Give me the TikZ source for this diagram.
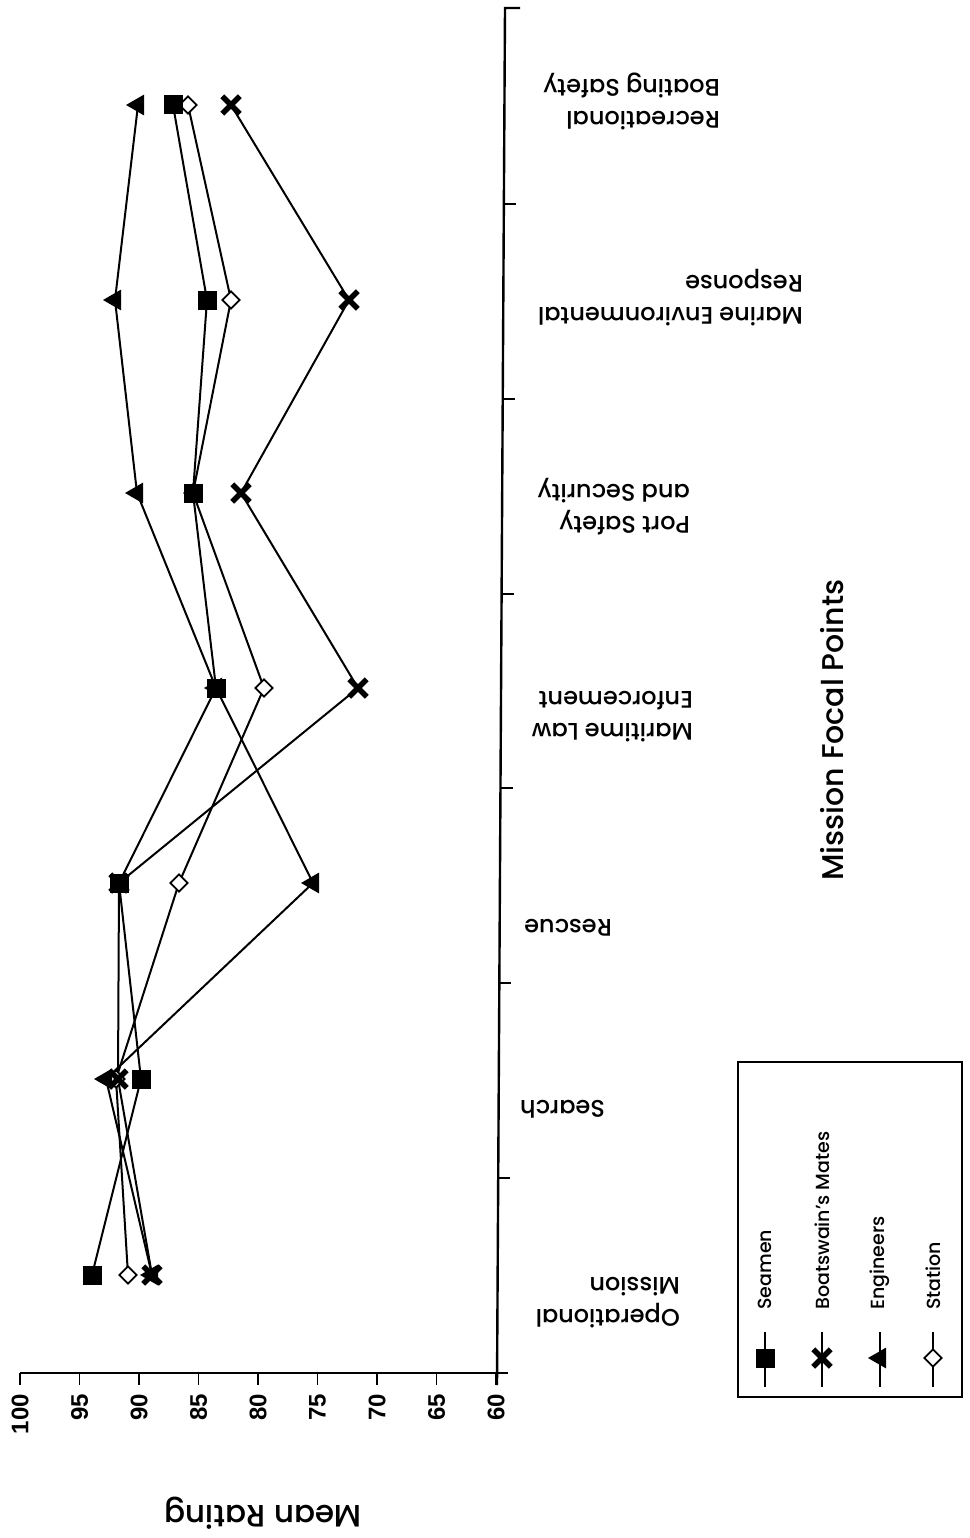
\documentclass[tikz,border=0pt]{standalone}
\usepackage{fontspec}
\setmainfont{Poppins Medium}
\newfontfamily\numfont{Liberation Sans}
\usetikzlibrary{shapes.geometric,shapes.misc}
\begin{document}
\begin{tikzpicture}[x=1pt,y=-1pt,
  dline/.style={line width=2pt},
  axisline/.style={line width=2.4pt},
  tickline/.style={line width=1.6pt},
  sqm/.style={rectangle, fill=black, minimum size=19pt, inner sep=0},
  xm/.style={cross out, draw=black, line width=5.5pt, minimum size=12pt, inner sep=0},
  trm/.style={regular polygon, regular polygon sides=3, shape border rotate=90, fill=black, minimum size=24pt, inner sep=0},
  dim/.style={diamond, draw=black, fill=white, line width=1.8pt, minimum size=18pt, inner sep=0},
  catlabel/.style={rotate=180, anchor=north west, inner sep=0, align=left, font=\fontsize{24}{32}\selectfont},
  ticklabel/.style={rotate=90, anchor=east, inner sep=0, font=\numfont\bfseries\fontsize{24}{26}\selectfont},
  legtext/.style={rotate=90, anchor=west, inner sep=0, font=\fontsize{19}{21}\selectfont},
]
\useasboundingbox[fill=white] (0,0) rectangle (969,1538);

% axes
\coordinate (ctop) at (505,8);
\coordinate (cbot) at (497,1385);
\coordinate (ctopend) at (520,8);
\draw[axisline] (ctopend) -- (ctop) -- (cbot);
\coordinate (vleft) at (20,1373);
\coordinate (vright) at (508,1373);
\draw[axisline] (vleft) -- (vright);
\foreach \i/\lab in {0/100,1/95,2/90,3/85,4/80,5/75,6/70,7/65,8/60}{
  \coordinate (vt\i) at ({20+\i*59.5},1373);
  \draw[tickline] (vt\i) -- ++(0,12);
  \node[ticklabel] (vl\i) at ({20+\i*59.5},1394) {\lab};
}
\foreach \i/\xx/\yy in {1/503.9/204,2/502.7/399,3/501.6/594,4/500.5/788,5/499.3/983,6/498.2/1178}{
  \coordinate (ct\i) at (\xx,\yy);
  \draw[tickline] (ct\i) -- ++(12,0);
}

% category labels
\node[catlabel] (c7) at (720,130) {Recreational\\Boating Safety};
\node[catlabel] (c6) at (803,326) {Marine Environmental\\Response};
\node[catlabel] (c5) at (690,535) {Port Safety\\and Security};
\node[catlabel] (c4) at (693,742) {Maritime Law\\Enforcement};
\node[catlabel] (c3) at (612,936) {Rescue};
\node[catlabel] (c2) at (605,1118) {Search};
\node[catlabel] (c1) at (680,1328) {Operational\\Mission};

\node[rotate=180, font=\fontsize{31}{34}\selectfont] (ylab) at (263,1513) {Mean Rating};
\node[rotate=90, font=\fontsize{30}{34}\selectfont] (xlab) at (832,730) {Mission Focal Points};

% data
\foreach \n/\yy/\sx/\bx/\ex/\tx in {
  1/1275/92/152/152/128,
  2/1079/141/118/106/116,
  3/883/119/119/313/179,
  4/688/216/358/216/264,
  5/493/193/241/137/193,
  6/300/207/349/115/231,
  7/105/173/231/138/188}{
  \coordinate (s\n) at (\sx,\yy);
  \coordinate (b\n) at (\bx,\yy);
  \coordinate (e\n) at (\ex,\yy);
  \coordinate (t\n) at (\tx,\yy);
}
\draw[dline] (t1) -- (t2) -- (t3) -- (t4) -- (t5) -- (t6) -- (t7);
\draw[dline] (e1) -- (e2) -- (e3) -- (e4) -- (e5) -- (e6) -- (e7);
\draw[dline] (b1) -- (b2) -- (b3) -- (b4) -- (b5) -- (b6) -- (b7);
\draw[dline] (s1) -- (s2) -- (s3) -- (s4) -- (s5) -- (s6) -- (s7);
\foreach \n in {1,...,7}{
  \node[dim] (mt\n) at (t\n) {};
}
\foreach \n in {1,...,7}{
  \node[trm] (me\n) at (e\n) {};
}
\foreach \n in {1,...,7}{
  \node[xm] (mb\n) at (b\n) {};
}
\foreach \n in {1,...,7}{
  \node[sqm] (ms\n) at (s\n) {};
}

% legend
\draw[line width=2pt] (738,1062) rectangle (962,1397);
\foreach \i/\xx/\sty/\lab in {1/765/sqm/Seamen,2/822/xm/Boatswain's Mates,3/880/trm/Engineers,4/933/dim/Station}{
  \coordinate (la\i) at (\xx,1332);
  \coordinate (lb\i) at (\xx,1387);
  \draw[dline] (la\i) -- (lb\i);
  \node[\sty] (lm\i) at (\xx,1358) {};
  \node[legtext] (lt\i) at (\xx,1310) {\lab};
}
\end{tikzpicture}
\end{document}
